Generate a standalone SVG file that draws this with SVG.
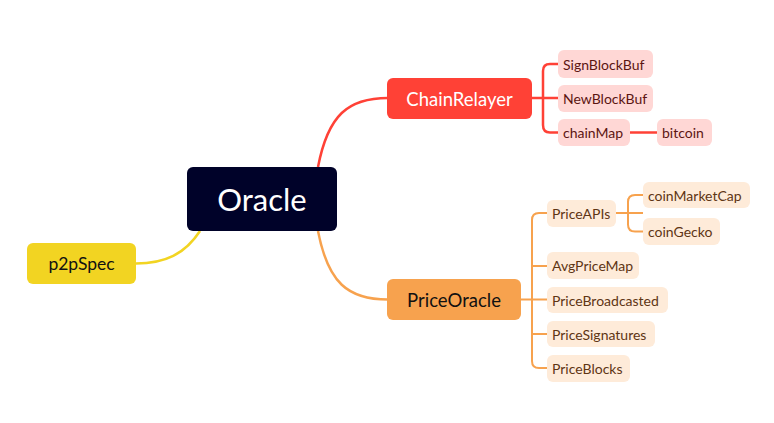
<svg xmlns="http://www.w3.org/2000/svg" width="774" height="423" viewBox="0 0 774 423">
<style>
text{font-family:Lato,"Noto Sans","Liberation Sans",sans-serif;dominant-baseline:central;}
.red{fill:none;stroke:#FF4136;stroke-width:2.5;}
.org{fill:none;stroke:#F7A24E;stroke-width:2;}
.rc{fill:#FFD7D5;}
.oc{fill:#FEEBD9;}
.rt{fill:#5C1512;font-size:14px;}
.ot{fill:#5E3514;font-size:14px;}
</style>
<rect width="774" height="423" fill="#fff"/>
<g id="connectors">
<path class="red" d="M318,167 C328,115 348,98 388,98"/>
<path d="M318,231 C328,283 348,299.5 388,299.5" fill="none" stroke="#F7A24E" stroke-width="2.5"/>
<path d="M200,231 C185,254 165,263.5 136,263.5" fill="none" stroke="#F2D422" stroke-width="2.5"/>
<path class="red" stroke-width="2" d="M531,98 H558 M558,64 H550 Q543,64 543,71 V125 Q543,132.5 550,132.5 H558"/>
<path class="red" stroke-width="2" d="M630,132.5 H657"/>
<path class="org" d="M520,299.5 H547 M547,213 H539 Q532,213 532,220 V361 Q532,368 539,368 H547 M532,266 H547 M532,334 H547"/>
<path class="org" d="M616,213 H643 M643,195 H635 Q628,195 628,202 V224.5 Q628,231.5 635,231.5 H643"/>
</g>
<g id="oracle"><rect x="187" y="167" width="150" height="64" rx="6" fill="#000229"/><text x="262" y="199" fill="#fff" font-size="31" text-anchor="middle">Oracle</text></g>
<g id="p2pSpec"><rect x="27" y="243" width="109" height="41" rx="6" fill="#F2D422"/><text x="81.5" y="263.5" fill="#111" font-size="17.5" text-anchor="middle">p2pSpec</text></g>
<g id="chainRelayer"><rect x="387" y="78" width="145" height="41" rx="6" fill="#FF4136"/><text x="459.5" y="98.5" fill="#fff" font-size="18.5" text-anchor="middle">ChainRelayer</text></g>
<g id="priceOracle"><rect x="387" y="279" width="134" height="41" rx="6" fill="#F7A24E"/><text x="454" y="299.5" fill="#111" font-size="18.5" text-anchor="middle">PriceOracle</text></g>
<g id="signBlockBuf"><rect class="rc" x="558" y="50" width="95" height="28" rx="6"/><text class="rt" x="563" y="64">SignBlockBuf</text></g>
<g id="newBlockBuf"><rect class="rc" x="558" y="85" width="95" height="27" rx="6"/><text class="rt" x="563" y="98.5">NewBlockBuf</text></g>
<g id="chainMap"><rect class="rc" x="558" y="119" width="72" height="27" rx="6"/><text class="rt" x="563" y="132.5">chainMap</text></g>
<g id="bitcoin"><rect class="rc" x="657" y="119" width="55" height="27" rx="6"/><text class="rt" x="662" y="132.5">bitcoin</text></g>
<g id="priceAPIs"><rect class="oc" x="547" y="200" width="69" height="27" rx="6"/><text class="ot" x="552" y="213">PriceAPIs</text></g>
<g id="coinMarketCap"><rect class="oc" x="643" y="182" width="107" height="26" rx="6"/><text class="ot" x="648" y="195">coinMarketCap</text></g>
<g id="coinGecko"><rect class="oc" x="643" y="218" width="77" height="27" rx="6"/><text class="ot" x="648" y="231.5">coinGecko</text></g>
<g id="avgPriceMap"><rect class="oc" x="547" y="252" width="92" height="27" rx="6"/><text class="ot" x="552" y="265.5">AvgPriceMap</text></g>
<g id="priceBroadcasted"><rect class="oc" x="547" y="287" width="121" height="26" rx="6"/><text class="ot" x="552" y="300">PriceBroadcasted</text></g>
<g id="priceSignatures"><rect class="oc" x="547" y="321" width="108" height="26" rx="6"/><text class="ot" x="552" y="334">PriceSignatures</text></g>
<g id="priceBlocks"><rect class="oc" x="547" y="355" width="83" height="27" rx="6"/><text class="ot" x="552" y="368">PriceBlocks</text></g>
</svg>
